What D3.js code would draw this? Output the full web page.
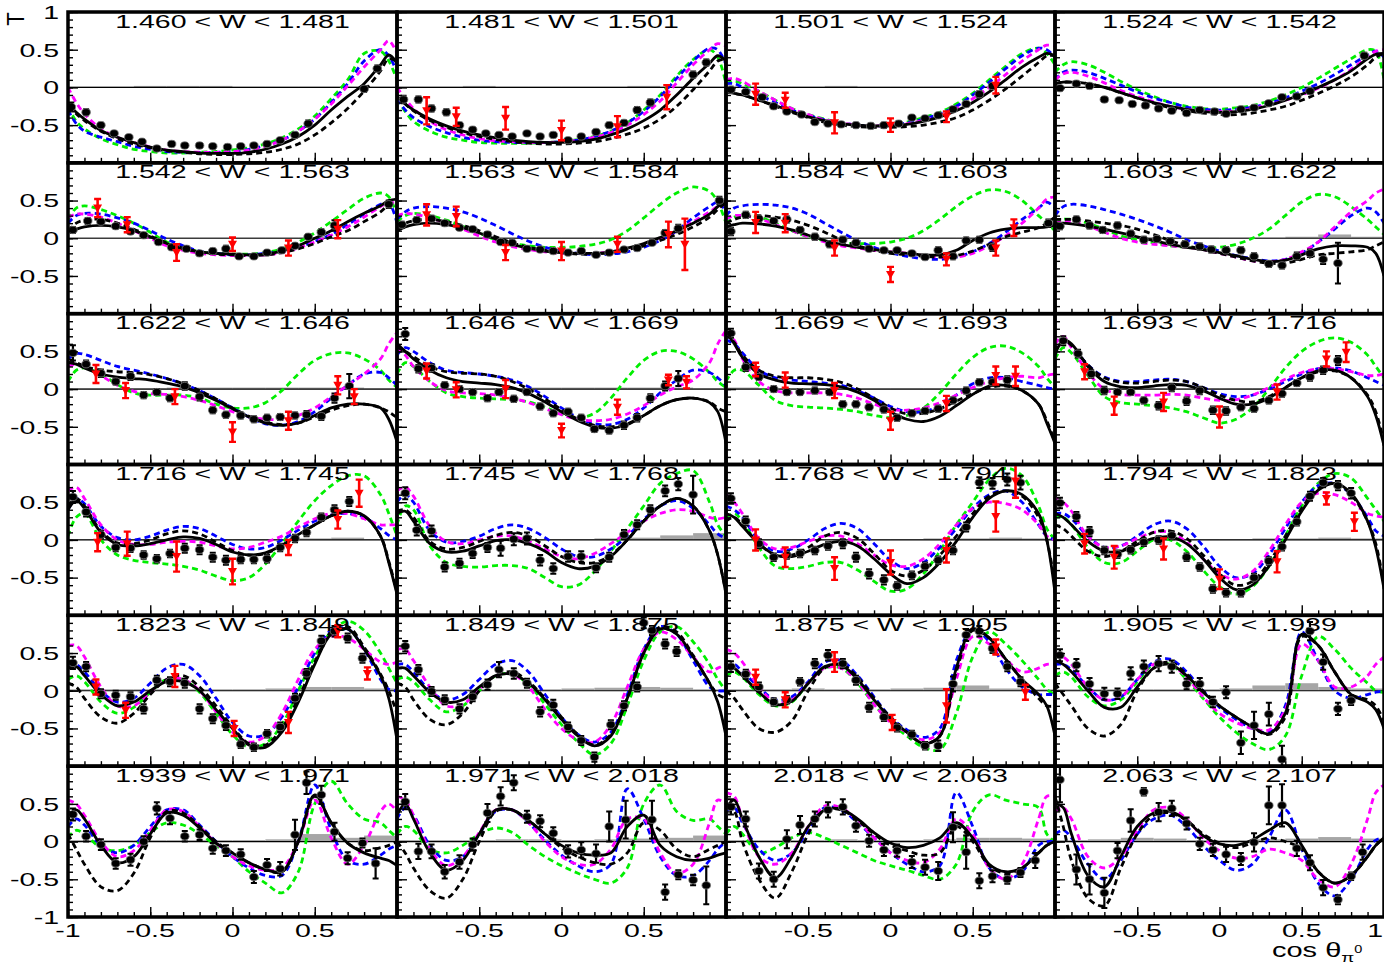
<!DOCTYPE html>
<html>
<head>
<meta charset="utf-8">
<script src="https://cdn.jsdelivr.net/npm/d3@7"></script>
<style>
  body { margin: 0; background: #fff; }
  svg text { font-family: "Liberation Sans", Arial, Helvetica, sans-serif; fill: #000; }
</style>
</head>
<body>
<svg id="chart" width="1384" height="963"></svg>
<script>
// W bins (one panel each, 4 columns x 6 rows)
const wBins = [
  "1.460 < W < 1.481", "1.481 < W < 1.501", "1.501 < W < 1.524", "1.524 < W < 1.542",
  "1.542 < W < 1.563", "1.563 < W < 1.584", "1.584 < W < 1.603", "1.603 < W < 1.622",
  "1.622 < W < 1.646", "1.646 < W < 1.669", "1.669 < W < 1.693", "1.693 < W < 1.716",
  "1.716 < W < 1.745", "1.745 < W < 1.768", "1.768 < W < 1.794", "1.794 < W < 1.823",
  "1.823 < W < 1.849", "1.849 < W < 1.875", "1.875 < W < 1.905", "1.905 < W < 1.939",
  "1.939 < W < 1.971", "1.971 < W < 2.018", "2.018 < W < 2.063", "2.063 < W < 2.107"
];

// cos(theta) nodes on which the model curves are tabulated
const cosGrid = [-1,-0.95,-0.9,-0.8,-0.7,-0.6,-0.5,-0.4,-0.3,-0.2,-0.1,0,0.1,0.2,0.3,0.4,0.5,0.6,0.7,0.8,0.9,0.95,1];

// Black solid: new fit
const fitSolid = [
  [-0.22,-0.33,-0.42,-0.57,-0.66,-0.73,-0.79,-0.83,-0.85,-0.87,-0.875,-0.875,-0.86,-0.82,-0.75,-0.65,-0.5,-0.3,-0.12,0.05,0.3,0.43,0.32],
  [-0.12,-0.22,-0.3,-0.42,-0.51,-0.58,-0.63,-0.67,-0.7,-0.72,-0.73,-0.73,-0.72,-0.69,-0.63,-0.55,-0.44,-0.3,-0.1,0.12,0.32,0.42,0.35],
  [-0.05,-0.08,-0.1,-0.17,-0.24,-0.32,-0.39,-0.44,-0.48,-0.5,-0.51,-0.51,-0.49,-0.45,-0.39,-0.31,-0.2,-0.06,0.1,0.27,0.4,0.45,0.42],
  [0.05,0.07,0.07,0.05,0.0,-0.07,-0.14,-0.2,-0.25,-0.29,-0.32,-0.33,-0.32,-0.29,-0.24,-0.17,-0.09,0.0,0.1,0.22,0.38,0.44,0.45],
  [0.08,0.12,0.15,0.17,0.15,0.1,0.02,-0.07,-0.14,-0.18,-0.2,-0.21,-0.22,-0.21,-0.17,-0.1,0.0,0.1,0.22,0.33,0.43,0.5,0.52],
  [0.1,0.15,0.18,0.2,0.18,0.14,0.07,-0.01,-0.08,-0.13,-0.17,-0.19,-0.2,-0.2,-0.18,-0.13,-0.07,0.01,0.1,0.2,0.32,0.42,0.5],
  [0.15,0.18,0.2,0.19,0.16,0.11,0.04,-0.03,-0.08,-0.12,-0.15,-0.18,-0.2,-0.22,-0.22,-0.16,-0.03,0.07,0.12,0.14,0.14,0.15,0.18],
  [0.2,0.2,0.19,0.16,0.12,0.07,0.02,-0.03,-0.08,-0.12,-0.15,-0.19,-0.23,-0.28,-0.31,-0.29,-0.22,-0.14,-0.1,-0.1,-0.12,-0.2,-0.5],
  [0.35,0.33,0.28,0.2,0.16,0.14,0.12,0.08,0.03,-0.05,-0.15,-0.26,-0.37,-0.45,-0.48,-0.45,-0.35,-0.25,-0.2,-0.2,-0.25,-0.4,-0.7],
  [0.6,0.5,0.4,0.25,0.15,0.1,0.08,0.06,0.02,-0.06,-0.17,-0.3,-0.42,-0.5,-0.52,-0.47,-0.35,-0.22,-0.14,-0.12,-0.18,-0.3,-0.72],
  [0.75,0.6,0.42,0.2,0.12,0.08,0.07,0.06,0.03,-0.04,-0.15,-0.3,-0.4,-0.43,-0.36,-0.22,-0.07,0.04,0.05,-0.02,-0.2,-0.45,-0.72],
  [0.45,0.65,0.6,0.3,0.1,0.03,0.02,0.04,0.06,0.05,-0.02,-0.12,-0.2,-0.2,-0.12,0.02,0.15,0.24,0.25,0.15,-0.1,-0.35,-0.75],
  [0.4,0.52,0.42,0.1,-0.06,-0.08,-0.05,0.0,0.04,0.02,-0.06,-0.16,-0.2,-0.17,-0.07,0.07,0.2,0.32,0.38,0.32,0.05,-0.3,-0.72],
  [0.35,0.38,0.25,-0.05,-0.16,-0.15,-0.08,-0.01,0.0,-0.05,-0.15,-0.3,-0.38,-0.35,-0.22,0.0,0.25,0.45,0.55,0.45,0.12,-0.2,-0.72],
  [0.35,0.3,0.18,-0.05,-0.2,-0.22,-0.15,-0.06,-0.02,-0.08,-0.25,-0.45,-0.58,-0.5,-0.3,-0.02,0.3,0.55,0.65,0.6,0.35,0.0,-0.7],
  [0.35,0.3,0.2,-0.02,-0.15,-0.15,-0.06,0.02,0.04,-0.05,-0.25,-0.5,-0.66,-0.6,-0.35,0.0,0.38,0.66,0.75,0.62,0.25,-0.1,-0.65],
  [0.3,0.32,0.2,-0.05,-0.2,-0.15,0.0,0.12,0.12,0.0,-0.25,-0.5,-0.72,-0.75,-0.55,-0.15,0.35,0.75,0.82,0.55,0.2,-0.1,-0.65],
  [0.3,0.3,0.2,-0.02,-0.15,-0.12,0.05,0.2,0.22,0.1,-0.12,-0.38,-0.6,-0.73,-0.6,-0.1,0.5,0.82,0.75,0.45,0.1,-0.15,-0.6],
  [0.35,0.3,0.2,-0.02,-0.18,-0.14,0.1,0.32,0.34,0.15,-0.12,-0.37,-0.55,-0.7,-0.6,0.3,0.82,0.7,0.42,0.15,-0.05,-0.2,-0.6],
  [0.4,0.35,0.25,0.0,-0.22,-0.22,0.05,0.3,0.35,0.2,-0.02,-0.2,-0.35,-0.48,-0.57,-0.3,0.75,0.6,0.25,-0.05,-0.15,-0.25,-0.5],
  [0.3,0.42,0.3,-0.05,-0.28,-0.2,0.1,0.38,0.35,0.18,-0.02,-0.15,-0.28,-0.37,-0.4,0.0,0.62,0.25,-0.02,-0.15,-0.22,-0.25,-0.32],
  [0.35,0.5,0.3,-0.15,-0.38,-0.25,0.1,0.42,0.42,0.28,0.1,-0.05,-0.15,-0.18,-0.15,0.2,0.35,-0.05,-0.2,-0.25,-0.22,-0.18,-0.15],
  [0.45,0.55,0.3,-0.2,-0.48,-0.2,0.2,0.42,0.43,0.3,0.12,-0.02,-0.08,-0.05,0.05,0.25,0.05,-0.3,-0.4,-0.35,-0.15,-0.05,0.0],
  [0.5,0.45,0.1,-0.45,-0.6,-0.2,0.2,0.38,0.4,0.28,0.08,-0.03,-0.05,0.02,0.15,0.25,-0.05,-0.4,-0.55,-0.45,-0.2,-0.05,0.05]
];

// Black dashed: previous fit
const fitDashed = [
  [-0.25,-0.35,-0.44,-0.58,-0.68,-0.75,-0.8,-0.84,-0.86,-0.88,-0.89,-0.89,-0.88,-0.86,-0.82,-0.75,-0.63,-0.47,-0.28,-0.05,0.22,0.38,0.35],
  [-0.12,-0.22,-0.31,-0.44,-0.53,-0.6,-0.65,-0.69,-0.72,-0.74,-0.75,-0.75,-0.74,-0.72,-0.68,-0.62,-0.54,-0.42,-0.25,-0.03,0.22,0.35,0.38],
  [-0.05,-0.08,-0.1,-0.17,-0.25,-0.33,-0.4,-0.46,-0.5,-0.52,-0.53,-0.53,-0.52,-0.5,-0.46,-0.4,-0.3,-0.17,-0.02,0.15,0.33,0.42,0.42],
  [0.05,0.07,0.07,0.05,0.0,-0.07,-0.14,-0.21,-0.27,-0.31,-0.34,-0.36,-0.36,-0.34,-0.3,-0.25,-0.17,-0.08,0.02,0.14,0.3,0.4,0.45],
  [0.1,0.2,0.24,0.25,0.2,0.12,0.03,-0.06,-0.13,-0.18,-0.21,-0.22,-0.23,-0.22,-0.19,-0.14,-0.07,0.02,0.1,0.22,0.35,0.45,0.5],
  [0.15,0.2,0.23,0.25,0.22,0.17,0.1,0.02,-0.06,-0.12,-0.16,-0.19,-0.21,-0.21,-0.19,-0.15,-0.1,-0.03,0.05,0.15,0.28,0.38,0.48],
  [0.2,0.25,0.28,0.3,0.28,0.24,0.17,0.08,-0.02,-0.1,-0.16,-0.2,-0.22,-0.24,-0.25,-0.23,-0.17,-0.08,0.02,0.08,0.14,0.2,0.28],
  [0.25,0.25,0.25,0.23,0.2,0.17,0.12,0.05,-0.03,-0.1,-0.15,-0.2,-0.25,-0.3,-0.33,-0.33,-0.28,-0.22,-0.2,-0.18,-0.15,-0.1,-0.05],
  [0.35,0.35,0.3,0.25,0.23,0.22,0.19,0.14,0.07,-0.02,-0.13,-0.25,-0.36,-0.44,-0.47,-0.45,-0.37,-0.28,-0.22,-0.2,-0.25,-0.3,-0.38],
  [0.55,0.5,0.43,0.3,0.23,0.21,0.2,0.17,0.1,0.0,-0.13,-0.27,-0.4,-0.48,-0.5,-0.46,-0.35,-0.22,-0.14,-0.12,-0.17,-0.25,-0.3],
  [0.75,0.62,0.45,0.25,0.17,0.15,0.15,0.13,0.09,0.0,-0.12,-0.25,-0.33,-0.32,-0.26,-0.16,-0.06,0.02,0.04,-0.02,-0.2,-0.42,-0.7],
  [0.5,0.65,0.58,0.32,0.15,0.09,0.08,0.1,0.12,0.1,0.02,-0.08,-0.15,-0.17,-0.1,0.02,0.15,0.23,0.24,0.15,-0.08,-0.3,-0.7],
  [0.45,0.55,0.45,0.12,-0.04,-0.05,0.0,0.08,0.12,0.08,-0.03,-0.14,-0.2,-0.18,-0.08,0.06,0.2,0.32,0.38,0.32,0.05,-0.28,-0.7],
  [0.38,0.4,0.3,-0.02,-0.12,-0.1,-0.02,0.06,0.1,0.05,-0.08,-0.22,-0.3,-0.3,-0.2,0.0,0.25,0.45,0.55,0.45,0.12,-0.2,-0.7],
  [0.25,0.3,0.2,-0.05,-0.2,-0.2,-0.1,0.05,0.1,0.02,-0.18,-0.4,-0.48,-0.4,-0.2,0.05,0.35,0.58,0.65,0.58,0.3,0.0,-0.6],
  [0.2,0.15,0.05,-0.15,-0.22,-0.15,-0.02,0.1,0.12,0.02,-0.2,-0.45,-0.6,-0.55,-0.3,0.05,0.42,0.68,0.75,0.6,0.25,-0.05,-0.6],
  [0.1,0.05,-0.1,-0.35,-0.43,-0.3,-0.05,0.15,0.2,0.05,-0.2,-0.48,-0.7,-0.72,-0.5,-0.1,0.38,0.78,0.85,0.58,0.22,0.0,-0.3],
  [0.1,0.05,-0.12,-0.38,-0.45,-0.3,0.0,0.2,0.25,0.12,-0.1,-0.35,-0.58,-0.72,-0.58,-0.1,0.5,0.85,0.78,0.47,0.1,-0.05,-0.1],
  [0.0,-0.1,-0.25,-0.5,-0.55,-0.4,0.0,0.3,0.35,0.18,-0.1,-0.35,-0.55,-0.7,-0.6,0.25,0.8,0.7,0.42,0.15,-0.1,-0.2,-0.2],
  [0.1,-0.05,-0.2,-0.5,-0.6,-0.45,0.0,0.3,0.38,0.22,0.0,-0.2,-0.35,-0.48,-0.58,-0.35,0.72,0.6,0.25,-0.05,-0.12,-0.2,-0.4],
  [0.1,-0.1,-0.3,-0.6,-0.65,-0.42,0.05,0.4,0.38,0.2,0.0,-0.15,-0.28,-0.37,-0.4,0.0,0.6,0.25,-0.02,-0.12,-0.08,-0.05,0.0],
  [0.0,-0.15,-0.35,-0.65,-0.75,-0.5,0.0,0.4,0.42,0.28,0.1,-0.08,-0.2,-0.28,-0.3,-0.15,0.25,0.15,-0.1,-0.2,-0.1,-0.05,0.0],
  [0.45,0.4,0.0,-0.5,-0.75,-0.4,0.1,0.42,0.42,0.28,0.1,-0.05,-0.12,-0.18,-0.15,0.2,0.0,-0.32,-0.42,-0.35,-0.15,-0.05,0.0],
  [0.6,0.2,-0.25,-0.75,-0.85,-0.35,0.1,0.35,0.38,0.28,0.1,-0.02,-0.08,-0.02,0.05,0.0,-0.1,-0.4,-0.55,-0.45,-0.2,-0.05,0.05]
];

// Blue dashed model
const modelBlue = [
  [-0.3,-0.48,-0.58,-0.66,-0.72,-0.78,-0.82,-0.85,-0.86,-0.86,-0.86,-0.85,-0.82,-0.77,-0.7,-0.58,-0.42,-0.2,0.05,0.35,0.5,0.42,0.2],
  [-0.15,-0.3,-0.4,-0.52,-0.6,-0.66,-0.7,-0.72,-0.73,-0.73,-0.73,-0.72,-0.7,-0.65,-0.58,-0.47,-0.32,-0.12,0.12,0.35,0.52,0.5,0.3],
  [0.05,0.05,0.0,-0.1,-0.2,-0.3,-0.37,-0.43,-0.47,-0.5,-0.51,-0.5,-0.47,-0.42,-0.35,-0.25,-0.1,0.07,0.25,0.42,0.52,0.5,0.4],
  [0.1,0.2,0.23,0.2,0.12,0.03,-0.06,-0.14,-0.2,-0.26,-0.29,-0.3,-0.29,-0.26,-0.21,-0.14,-0.05,0.05,0.17,0.3,0.43,0.48,0.4],
  [0.2,0.3,0.33,0.32,0.27,0.2,0.1,-0.01,-0.1,-0.17,-0.2,-0.22,-0.22,-0.2,-0.17,-0.12,-0.04,0.05,0.18,0.32,0.45,0.47,0.2],
  [0.25,0.35,0.4,0.42,0.4,0.35,0.27,0.17,0.06,-0.04,-0.12,-0.17,-0.2,-0.22,-0.21,-0.18,-0.12,-0.03,0.1,0.27,0.42,0.48,0.35],
  [0.3,0.4,0.43,0.45,0.44,0.4,0.32,0.2,0.08,-0.03,-0.12,-0.19,-0.24,-0.27,-0.28,-0.25,-0.18,-0.07,0.08,0.25,0.4,0.48,0.4],
  [0.3,0.42,0.45,0.43,0.38,0.32,0.25,0.17,0.08,-0.02,-0.1,-0.17,-0.23,-0.27,-0.3,-0.28,-0.2,-0.05,0.12,0.3,0.4,0.35,0.2],
  [0.4,0.47,0.46,0.38,0.3,0.25,0.2,0.14,0.07,-0.02,-0.13,-0.25,-0.37,-0.46,-0.48,-0.43,-0.3,-0.12,0.05,0.2,0.22,0.15,0.05],
  [0.45,0.55,0.5,0.35,0.25,0.22,0.2,0.17,0.12,0.03,-0.1,-0.25,-0.38,-0.46,-0.47,-0.4,-0.25,-0.05,0.12,0.25,0.22,0.15,0.05],
  [0.65,0.6,0.48,0.25,0.15,0.12,0.1,0.08,0.05,-0.02,-0.12,-0.23,-0.3,-0.3,-0.22,-0.08,0.07,0.15,0.15,0.1,0.05,0.02,0.0],
  [0.5,0.65,0.58,0.32,0.16,0.1,0.1,0.12,0.13,0.1,0.02,-0.06,-0.1,-0.08,0.0,0.1,0.2,0.27,0.28,0.24,0.15,0.1,0.05],
  [0.4,0.55,0.48,0.18,0.03,0.0,0.05,0.13,0.18,0.15,0.05,-0.06,-0.12,-0.1,0.0,0.13,0.25,0.33,0.35,0.3,0.15,0.06,0.0],
  [0.5,0.6,0.5,0.12,-0.03,-0.02,0.05,0.15,0.2,0.15,0.03,-0.12,-0.22,-0.22,-0.12,0.05,0.27,0.45,0.52,0.42,0.2,0.08,0.02],
  [0.45,0.4,0.3,0.0,-0.15,-0.12,0.0,0.15,0.22,0.15,-0.05,-0.27,-0.38,-0.3,-0.1,0.15,0.42,0.6,0.65,0.5,0.2,0.05,0.0],
  [0.35,0.35,0.28,0.05,-0.1,-0.08,0.05,0.2,0.25,0.15,-0.08,-0.35,-0.5,-0.45,-0.2,0.15,0.5,0.72,0.75,0.6,0.3,0.12,0.05],
  [0.35,0.35,0.25,0.0,-0.15,-0.1,0.1,0.3,0.35,0.2,-0.1,-0.42,-0.6,-0.58,-0.35,0.05,0.5,0.8,0.82,0.55,0.15,0.02,0.0],
  [0.35,0.35,0.25,0.0,-0.12,-0.05,0.15,0.35,0.4,0.25,-0.05,-0.35,-0.58,-0.68,-0.55,-0.05,0.55,0.85,0.75,0.4,0.05,0.0,0.0],
  [0.3,0.35,0.25,0.05,-0.12,-0.08,0.12,0.38,0.4,0.2,-0.08,-0.35,-0.52,-0.62,-0.5,0.4,0.82,0.65,0.3,0.05,-0.05,-0.05,-0.05],
  [0.35,0.35,0.28,0.05,-0.12,-0.08,0.15,0.38,0.42,0.25,0.0,-0.22,-0.38,-0.5,-0.55,-0.2,0.78,0.4,0.0,-0.1,-0.05,-0.02,0.0],
  [0.2,0.3,0.22,-0.05,-0.15,-0.05,0.2,0.42,0.42,0.22,0.0,-0.2,-0.35,-0.45,-0.45,0.0,0.75,0.15,-0.25,-0.3,-0.18,-0.1,-0.05],
  [0.3,0.45,0.35,-0.05,-0.25,-0.2,0.1,0.4,0.42,0.25,0.02,-0.18,-0.32,-0.4,-0.3,0.7,0.3,-0.2,-0.45,-0.45,-0.25,-0.1,0.0],
  [0.4,0.45,0.25,-0.1,-0.25,-0.15,0.15,0.45,0.42,0.25,0.05,-0.15,-0.3,-0.4,-0.32,0.65,0.2,-0.35,-0.5,-0.4,-0.05,0.0,0.0],
  [0.1,0.15,0.05,-0.3,-0.5,-0.25,0.1,0.3,0.35,0.2,-0.05,-0.25,-0.38,-0.3,0.05,0.42,-0.1,-0.55,-0.72,-0.5,-0.1,0.02,0.05]
];

// Green dashed model (not shown in the last bin)
const modelGreen = [
  [-0.25,-0.45,-0.55,-0.68,-0.76,-0.82,-0.85,-0.87,-0.87,-0.86,-0.85,-0.83,-0.8,-0.75,-0.67,-0.55,-0.38,-0.15,0.1,0.45,0.48,0.35,0.1],
  [-0.15,-0.32,-0.45,-0.58,-0.66,-0.7,-0.73,-0.74,-0.74,-0.74,-0.73,-0.72,-0.69,-0.65,-0.58,-0.47,-0.3,-0.1,0.15,0.37,0.5,0.4,0.05],
  [0.05,0.08,0.05,-0.05,-0.17,-0.28,-0.36,-0.42,-0.47,-0.5,-0.51,-0.5,-0.46,-0.4,-0.33,-0.22,-0.08,0.1,0.28,0.45,0.52,0.45,0.3],
  [0.2,0.3,0.34,0.3,0.2,0.08,-0.03,-0.12,-0.2,-0.25,-0.28,-0.29,-0.27,-0.24,-0.18,-0.1,0.0,0.12,0.25,0.38,0.5,0.48,0.1],
  [0.25,0.4,0.43,0.38,0.3,0.2,0.08,-0.05,-0.13,-0.18,-0.2,-0.21,-0.21,-0.19,-0.14,-0.05,0.07,0.22,0.38,0.53,0.6,0.55,0.3],
  [0.22,0.3,0.33,0.3,0.24,0.16,0.07,-0.02,-0.07,-0.1,-0.12,-0.12,-0.11,-0.08,-0.02,0.1,0.27,0.45,0.6,0.68,0.62,0.48,0.2],
  [0.2,0.28,0.3,0.28,0.2,0.1,0.02,-0.03,-0.06,-0.07,-0.07,-0.05,0.0,0.1,0.25,0.42,0.56,0.64,0.62,0.5,0.3,0.2,0.1],
  [0.2,0.25,0.25,0.2,0.12,0.03,-0.02,-0.06,-0.1,-0.12,-0.13,-0.12,-0.08,0.0,0.12,0.3,0.48,0.58,0.55,0.42,0.25,0.15,0.05],
  [0.1,0.25,0.28,0.2,0.06,-0.05,-0.08,-0.08,-0.08,-0.12,-0.2,-0.25,-0.25,-0.18,-0.02,0.2,0.38,0.47,0.48,0.4,0.25,0.12,0.02],
  [0.2,0.35,0.3,0.1,-0.05,-0.1,-0.12,-0.13,-0.14,-0.17,-0.24,-0.33,-0.38,-0.32,-0.12,0.15,0.38,0.5,0.5,0.4,0.22,0.1,0.02],
  [0.1,0.25,0.25,0.05,-0.15,-0.22,-0.24,-0.25,-0.27,-0.3,-0.35,-0.38,-0.35,-0.25,-0.05,0.2,0.42,0.55,0.57,0.48,0.3,0.15,0.02],
  [0.4,0.55,0.48,0.18,-0.1,-0.18,-0.2,-0.22,-0.25,-0.3,-0.38,-0.45,-0.4,-0.25,0.0,0.28,0.5,0.63,0.68,0.62,0.45,0.3,0.15],
  [0.05,0.3,0.35,0.0,-0.2,-0.27,-0.3,-0.32,-0.35,-0.4,-0.48,-0.54,-0.5,-0.32,-0.05,0.25,0.52,0.72,0.85,0.85,0.6,0.35,0.05],
  [0.2,0.45,0.4,-0.08,-0.3,-0.35,-0.36,-0.34,-0.34,-0.38,-0.5,-0.62,-0.6,-0.42,-0.15,0.15,0.45,0.75,0.88,0.92,0.5,0.2,0.05],
  [0.3,0.35,0.25,-0.1,-0.35,-0.38,-0.35,-0.3,-0.3,-0.4,-0.55,-0.68,-0.65,-0.45,-0.15,0.2,0.5,0.8,0.95,0.85,0.45,0.15,0.0],
  [0.3,0.3,0.2,-0.1,-0.3,-0.3,-0.15,0.0,0.0,-0.15,-0.4,-0.62,-0.72,-0.62,-0.35,0.05,0.45,0.75,0.88,0.82,0.55,0.4,0.25],
  [0.15,0.2,0.12,-0.15,-0.3,-0.22,-0.02,0.15,0.15,-0.02,-0.3,-0.58,-0.75,-0.7,-0.45,0.0,0.45,0.78,0.92,0.8,0.5,0.3,0.1],
  [0.15,0.18,0.12,-0.12,-0.28,-0.2,0.0,0.2,0.22,0.08,-0.18,-0.45,-0.68,-0.85,-0.7,-0.2,0.4,0.78,0.85,0.65,0.35,0.15,0.0],
  [0.2,0.25,0.18,-0.05,-0.2,-0.15,0.1,0.3,0.3,0.1,-0.18,-0.42,-0.6,-0.75,-0.78,-0.3,0.45,0.78,0.62,0.4,0.15,0.02,-0.05],
  [0.2,0.25,0.18,-0.08,-0.2,-0.12,0.12,0.35,0.35,0.15,-0.1,-0.35,-0.55,-0.7,-0.78,-0.6,0.2,0.72,0.55,0.3,0.1,0.0,-0.02],
  [0.05,0.15,0.1,-0.08,-0.12,-0.05,0.12,0.25,0.22,0.1,-0.05,-0.2,-0.4,-0.55,-0.68,-0.4,0.5,0.8,0.5,0.3,0.25,0.15,0.05],
  [0.1,0.2,0.15,-0.1,-0.15,-0.05,0.1,0.18,0.12,-0.05,-0.2,-0.32,-0.42,-0.5,-0.55,-0.35,0.5,0.75,0.4,0.28,0.3,0.2,0.1],
  [0.1,0.2,0.1,-0.15,-0.08,0.05,0.12,0.05,-0.05,-0.15,-0.25,-0.32,-0.38,-0.45,-0.5,-0.3,0.4,0.62,0.55,0.5,0.45,0.1,0.0],
  null
];

// Magenta dashed model
const modelMagenta = [
  [0.0,-0.2,-0.35,-0.55,-0.66,-0.73,-0.79,-0.83,-0.85,-0.86,-0.86,-0.85,-0.83,-0.78,-0.7,-0.58,-0.42,-0.22,0.02,0.27,0.5,0.62,0.45],
  [0.0,-0.15,-0.28,-0.45,-0.56,-0.63,-0.68,-0.71,-0.72,-0.73,-0.73,-0.72,-0.7,-0.66,-0.6,-0.5,-0.36,-0.18,0.06,0.3,0.5,0.58,0.55],
  [0.1,0.12,0.08,-0.05,-0.17,-0.28,-0.36,-0.43,-0.47,-0.5,-0.51,-0.5,-0.48,-0.44,-0.38,-0.28,-0.15,0.0,0.17,0.35,0.5,0.56,0.55],
  [0.1,0.18,0.2,0.15,0.06,-0.04,-0.12,-0.19,-0.25,-0.29,-0.31,-0.32,-0.31,-0.28,-0.23,-0.17,-0.1,-0.01,0.1,0.24,0.4,0.48,0.5],
  [0.28,0.32,0.32,0.28,0.2,0.1,0.0,-0.1,-0.16,-0.2,-0.22,-0.23,-0.23,-0.22,-0.19,-0.13,-0.05,0.04,0.15,0.28,0.42,0.48,0.45],
  [0.3,0.33,0.32,0.27,0.2,0.12,0.03,-0.05,-0.11,-0.15,-0.18,-0.2,-0.2,-0.2,-0.18,-0.14,-0.08,0.0,0.1,0.22,0.35,0.42,0.45],
  [0.25,0.3,0.3,0.26,0.18,0.1,0.02,-0.05,-0.1,-0.13,-0.16,-0.18,-0.2,-0.23,-0.25,-0.25,-0.2,-0.1,0.03,0.2,0.4,0.52,0.55],
  [0.2,0.22,0.22,0.16,0.08,0.0,-0.05,-0.08,-0.1,-0.12,-0.15,-0.2,-0.25,-0.3,-0.31,-0.28,-0.18,-0.05,0.15,0.35,0.5,0.6,0.65],
  [0.3,0.33,0.3,0.18,0.05,-0.03,-0.06,-0.07,-0.1,-0.15,-0.22,-0.3,-0.37,-0.4,-0.4,-0.35,-0.25,-0.1,0.05,0.2,0.4,0.6,0.75],
  [0.55,0.45,0.3,0.1,-0.02,-0.05,-0.06,-0.08,-0.12,-0.18,-0.26,-0.34,-0.4,-0.42,-0.4,-0.33,-0.22,-0.08,0.03,0.12,0.35,0.6,0.78],
  [0.75,0.65,0.4,0.1,-0.02,-0.05,-0.05,-0.05,-0.07,-0.12,-0.2,-0.27,-0.28,-0.25,-0.18,-0.08,0.02,0.1,0.15,0.17,0.15,0.18,0.2],
  [0.6,0.7,0.55,0.22,0.0,-0.07,-0.08,-0.08,-0.07,-0.08,-0.12,-0.15,-0.14,-0.08,0.02,0.13,0.22,0.27,0.27,0.23,0.18,0.18,0.2],
  [0.65,0.7,0.55,0.2,0.0,-0.06,-0.06,-0.03,-0.02,-0.03,-0.08,-0.12,-0.1,-0.03,0.05,0.17,0.28,0.35,0.35,0.28,0.2,0.2,0.2],
  [0.65,0.7,0.58,0.18,-0.02,-0.05,0.0,0.05,0.05,-0.02,-0.12,-0.22,-0.25,-0.18,-0.05,0.1,0.25,0.35,0.4,0.38,0.3,0.28,0.3],
  [0.6,0.5,0.35,0.02,-0.12,-0.1,-0.02,0.05,0.05,-0.05,-0.2,-0.33,-0.35,-0.25,-0.05,0.2,0.42,0.5,0.48,0.4,0.2,0.05,0.0],
  [0.55,0.5,0.38,0.05,-0.1,-0.08,0.02,0.1,0.1,-0.03,-0.25,-0.45,-0.52,-0.42,-0.15,0.2,0.5,0.62,0.6,0.5,0.35,0.32,0.3],
  [0.6,0.6,0.45,0.05,-0.2,-0.2,-0.02,0.15,0.15,0.0,-0.28,-0.55,-0.68,-0.6,-0.3,0.15,0.55,0.72,0.7,0.55,0.38,0.35,0.38],
  [0.55,0.55,0.4,0.05,-0.2,-0.18,0.02,0.2,0.22,0.05,-0.25,-0.5,-0.65,-0.68,-0.45,0.05,0.55,0.78,0.68,0.45,0.25,0.3,0.35],
  [0.55,0.5,0.38,0.05,-0.15,-0.12,0.1,0.3,0.3,0.12,-0.18,-0.42,-0.55,-0.65,-0.55,0.15,0.72,0.62,0.42,0.25,0.3,0.35,0.35],
  [0.5,0.45,0.35,0.05,-0.12,-0.08,0.15,0.35,0.35,0.18,-0.08,-0.3,-0.42,-0.5,-0.52,-0.25,0.62,0.4,0.05,0.05,0.2,0.35,0.45],
  [0.55,0.5,0.35,0.0,-0.2,-0.12,0.15,0.42,0.4,0.2,-0.02,-0.2,-0.32,-0.38,-0.35,0.0,0.55,0.05,-0.3,-0.05,0.4,0.5,0.4],
  [0.6,0.55,0.35,-0.1,-0.32,-0.2,0.12,0.42,0.42,0.25,0.0,-0.2,-0.3,-0.3,-0.1,0.3,0.3,-0.15,-0.42,-0.3,0.25,0.55,0.5],
  [0.65,0.6,0.3,-0.2,-0.3,-0.15,0.2,0.47,0.45,0.28,0.05,-0.15,-0.25,-0.28,-0.1,0.3,0.1,-0.35,-0.5,-0.3,0.3,0.6,0.6],
  [0.4,0.45,0.3,-0.2,-0.35,-0.2,0.15,0.42,0.45,0.3,0.05,-0.12,-0.22,-0.2,-0.1,-0.15,-0.25,-0.5,-0.6,-0.3,0.3,0.65,0.75]
];

// Black points: [cos, T, error]
const dataBlack = [
  [[-0.98,-0.26,0.06],[-0.89,-0.33,0.04],[-0.8,-0.5,0.03],[-0.72,-0.61,0.03],[-0.63,-0.66,0.03],[-0.55,-0.72,0.03],[-0.46,-0.81,0.03],[-0.37,-0.75,0.03],[-0.29,-0.77,0.03],[-0.2,-0.77,0.03],[-0.12,-0.78,0.03],[-0.03,-0.79,0.03],[0.05,-0.78,0.03],[0.13,-0.77,0.03],[0.21,-0.75,0.03],[0.29,-0.7,0.03],[0.38,-0.63,0.03],[0.46,-0.48,0.04],[0.8,-0.02,0.04],[0.88,0.25,0.04]],
  [[-0.96,-0.16,0.05],[-0.87,-0.16,0.04],[-0.79,-0.28,0.04],[-0.7,-0.33,0.04],[-0.62,-0.5,0.03],[-0.54,-0.56,0.03],[-0.46,-0.61,0.03],[-0.38,-0.63,0.03],[-0.3,-0.65,0.03],[-0.21,-0.61,0.03],[-0.13,-0.65,0.03],[-0.05,-0.63,0.03],[0.04,-0.7,0.03],[0.12,-0.65,0.03],[0.21,-0.59,0.03],[0.29,-0.5,0.03],[0.38,-0.47,0.03],[0.46,-0.3,0.04],[0.54,-0.2,0.04],[0.8,0.17,0.04],[0.88,0.33,0.04]],
  [[-0.97,-0.03,0.04],[-0.88,-0.06,0.03],[-0.78,-0.13,0.03],[-0.71,-0.25,0.03],[-0.63,-0.32,0.03],[-0.54,-0.36,0.03],[-0.46,-0.46,0.03],[-0.38,-0.48,0.03],[-0.3,-0.49,0.03],[-0.21,-0.5,0.03],[-0.12,-0.51,0.03],[-0.04,-0.5,0.03],[0.05,-0.48,0.03],[0.13,-0.4,0.03],[0.21,-0.41,0.03],[0.29,-0.37,0.03],[0.38,-0.29,0.03],[0.46,-0.22,0.03],[0.54,-0.09,0.04],[0.62,0.02,0.04]],
  [[-0.97,-0.01,0.03],[-0.87,0.05,0.03],[-0.79,0.02,0.03],[-0.7,-0.16,0.03],[-0.61,-0.17,0.03],[-0.53,-0.22,0.03],[-0.45,-0.24,0.03],[-0.37,-0.28,0.03],[-0.29,-0.31,0.03],[-0.2,-0.34,0.03],[-0.12,-0.3,0.03],[-0.03,-0.32,0.03],[0.04,-0.35,0.03],[0.13,-0.29,0.03],[0.21,-0.27,0.03],[0.3,-0.21,0.03],[0.38,-0.13,0.03],[0.47,-0.12,0.03],[0.55,-0.05,0.03],[0.88,0.42,0.04]],
  [[-0.97,0.11,0.04],[-0.88,0.23,0.04],[-0.8,0.22,0.03],[-0.71,0.16,0.03],[-0.62,0.09,0.03],[-0.54,0.04,0.03],[-0.45,-0.05,0.03],[-0.37,-0.12,0.03],[-0.28,-0.14,0.03],[-0.2,-0.2,0.03],[-0.12,-0.17,0.03],[-0.04,-0.14,0.04],[0.04,-0.24,0.03],[0.13,-0.24,0.03],[0.21,-0.19,0.03],[0.3,-0.16,0.03],[0.38,-0.1,0.03],[0.46,0.02,0.03],[0.54,0.08,0.04],[0.62,0.17,0.07],[0.95,0.45,0.05]],
  [[-0.97,0.18,0.04],[-0.88,0.24,0.04],[-0.79,0.26,0.04],[-0.71,0.2,0.03],[-0.62,0.14,0.03],[-0.54,0.12,0.03],[-0.45,0.05,0.03],[-0.37,-0.05,0.03],[-0.3,-0.06,0.03],[-0.21,-0.14,0.03],[-0.13,-0.15,0.03],[-0.05,-0.17,0.03],[0.04,-0.19,0.03],[0.12,-0.17,0.03],[0.21,-0.22,0.03],[0.29,-0.19,0.03],[0.38,-0.15,0.03],[0.46,-0.13,0.03],[0.55,-0.06,0.03],[0.63,0.07,0.04],[0.71,0.13,0.05],[0.96,0.5,0.05]],
  [[-0.97,0.09,0.05],[-0.88,0.31,0.04],[-0.8,0.26,0.04],[-0.71,0.23,0.04],[-0.63,0.25,0.04],[-0.55,0.11,0.04],[-0.46,0.02,0.04],[-0.37,-0.08,0.04],[-0.29,-0.02,0.04],[-0.21,-0.06,0.04],[-0.13,-0.14,0.03],[-0.04,-0.16,0.03],[0.04,-0.16,0.03],[0.13,-0.2,0.03],[0.21,-0.25,0.03],[0.29,-0.16,0.04],[0.38,-0.24,0.04],[0.46,-0.03,0.04],[0.54,-0.02,0.04],[0.62,-0.12,0.05],[0.96,0.2,0.05]],
  [[-0.97,0.16,0.04],[-0.87,0.25,0.04],[-0.79,0.17,0.04],[-0.71,0.11,0.04],[-0.62,0.17,0.04],[-0.54,0.06,0.04],[-0.46,-0.02,0.04],[-0.38,-0.01,0.04],[-0.3,-0.04,0.04],[-0.21,-0.08,0.04],[-0.12,-0.11,0.04],[-0.05,-0.15,0.04],[0.04,-0.16,0.04],[0.13,-0.16,0.04],[0.21,-0.24,0.04],[0.3,-0.34,0.04],[0.38,-0.36,0.04],[0.47,-0.24,0.05],[0.55,-0.2,0.05],[0.63,-0.28,0.06],[0.72,-0.33,0.27]],
  [[-0.97,0.48,0.1],[-0.89,0.33,0.05],[-0.8,0.21,0.05],[-0.71,0.1,0.04],[-0.62,0.17,0.05],[-0.54,-0.08,0.04],[-0.46,-0.04,0.04],[-0.38,-0.12,0.04],[-0.29,0.04,0.05],[-0.2,-0.1,0.05],[-0.12,-0.28,0.04],[-0.04,-0.34,0.04],[0.05,-0.35,0.04],[0.13,-0.4,0.04],[0.21,-0.38,0.04],[0.29,-0.37,0.04],[0.38,-0.35,0.04],[0.45,-0.34,0.05],[0.54,-0.36,0.05],[0.62,-0.12,0.06],[0.71,0.04,0.16]],
  [[-0.95,0.73,0.08],[-0.87,0.27,0.05],[-0.79,0.28,0.05],[-0.71,0.05,0.04],[-0.62,0.0,0.04],[-0.54,-0.04,0.04],[-0.45,-0.12,0.04],[-0.38,-0.04,0.04],[-0.29,-0.13,0.04],[-0.21,-0.04,0.04],[-0.13,-0.23,0.04],[-0.05,-0.32,0.04],[0.04,-0.3,0.04],[0.12,-0.38,0.04],[0.2,-0.53,0.04],[0.29,-0.55,0.04],[0.38,-0.48,0.05],[0.46,-0.38,0.05],[0.54,-0.12,0.05],[0.63,0.04,0.06],[0.71,0.14,0.1]],
  [[-0.97,0.74,0.06],[-0.88,0.29,0.05],[-0.8,0.16,0.04],[-0.71,0.0,0.04],[-0.63,-0.04,0.04],[-0.55,-0.04,0.04],[-0.46,-0.02,0.04],[-0.37,-0.04,0.04],[-0.29,-0.2,0.04],[-0.21,-0.2,0.04],[-0.13,-0.24,0.04],[-0.04,-0.27,0.04],[0.04,-0.38,0.04],[0.13,-0.32,0.04],[0.21,-0.29,0.04],[0.29,-0.26,0.04],[0.38,-0.15,0.04],[0.46,-0.02,0.04],[0.54,0.09,0.04],[0.62,0.09,0.05],[0.71,0.12,0.05]],
  [[-0.95,0.64,0.06],[-0.86,0.47,0.05],[-0.78,0.2,0.05],[-0.7,-0.02,0.05],[-0.62,-0.04,0.04],[-0.54,-0.04,0.04],[-0.46,-0.15,0.04],[-0.37,-0.22,0.05],[-0.29,0.02,0.05],[-0.2,-0.16,0.05],[-0.12,-0.02,0.05],[-0.04,-0.28,0.05],[0.04,-0.29,0.05],[0.13,-0.24,0.04],[0.21,-0.26,0.04],[0.3,-0.15,0.04],[0.38,-0.06,0.04],[0.47,0.08,0.04],[0.55,0.16,0.05],[0.63,0.25,0.05],[0.72,0.38,0.06]],
  [[-0.97,0.57,0.08],[-0.89,0.37,0.06],[-0.8,0.07,0.05],[-0.71,-0.1,0.05],[-0.62,-0.11,0.05],[-0.54,-0.2,0.05],[-0.46,-0.25,0.05],[-0.38,-0.18,0.05],[-0.29,-0.11,0.06],[-0.2,-0.13,0.06],[-0.12,-0.23,0.06],[-0.04,-0.27,0.06],[0.05,-0.26,0.05],[0.13,-0.26,0.05],[0.21,-0.25,0.05],[0.29,-0.1,0.05],[0.38,0.02,0.05],[0.45,0.1,0.05],[0.54,0.3,0.05],[0.62,0.4,0.06],[0.71,0.51,0.06]],
  [[-0.95,0.62,0.08],[-0.88,0.13,0.07],[-0.79,0.12,0.07],[-0.71,-0.36,0.06],[-0.62,-0.31,0.06],[-0.54,-0.18,0.06],[-0.45,-0.1,0.06],[-0.37,-0.11,0.1],[-0.29,0.01,0.08],[-0.21,0.02,0.08],[-0.13,-0.27,0.07],[-0.05,-0.38,0.07],[0.04,-0.22,0.07],[0.12,-0.22,0.07],[0.21,-0.37,0.06],[0.29,-0.23,0.06],[0.38,0.07,0.06],[0.46,0.2,0.06],[0.54,0.4,0.06],[0.63,0.65,0.07],[0.71,0.74,0.08],[0.8,0.6,0.25]],
  [[-0.97,0.55,0.07],[-0.88,0.25,0.06],[-0.8,-0.05,0.06],[-0.71,-0.23,0.05],[-0.63,-0.2,0.05],[-0.55,-0.18,0.05],[-0.46,-0.14,0.05],[-0.38,-0.08,0.05],[-0.29,-0.05,0.06],[-0.21,-0.23,0.06],[-0.13,-0.45,0.06],[-0.04,-0.53,0.06],[0.04,-0.61,0.05],[0.13,-0.47,0.05],[0.21,-0.35,0.05],[0.29,-0.27,0.05],[0.38,-0.14,0.05],[0.46,0.17,0.06],[0.54,0.76,0.07],[0.62,0.75,0.07],[0.71,0.8,0.08],[0.79,0.76,0.09]],
  [[-0.97,0.49,0.07],[-0.87,0.31,0.06],[-0.79,0.11,0.06],[-0.7,-0.14,0.05],[-0.62,-0.19,0.05],[-0.54,-0.13,0.05],[-0.46,-0.03,0.05],[-0.37,0.0,0.05],[-0.29,0.06,0.05],[-0.2,-0.23,0.05],[-0.12,-0.36,0.05],[-0.04,-0.65,0.05],[0.04,-0.7,0.05],[0.13,-0.7,0.05],[0.21,-0.5,0.05],[0.3,-0.28,0.05],[0.38,-0.09,0.05],[0.47,0.24,0.05],[0.55,0.58,0.06],[0.63,0.76,0.06],[0.72,0.72,0.06],[0.8,0.62,0.07]],
  [[-0.97,0.37,0.08],[-0.89,0.32,0.06],[-0.8,-0.04,0.06],[-0.71,-0.06,0.06],[-0.62,-0.08,0.06],[-0.54,-0.24,0.06],[-0.46,0.14,0.06],[-0.38,0.12,0.06],[-0.29,0.1,0.06],[-0.2,-0.24,0.06],[-0.12,-0.37,0.06],[-0.04,-0.46,0.06],[0.05,-0.71,0.05],[0.13,-0.75,0.05],[0.21,-0.57,0.05],[0.29,-0.48,0.06],[0.38,-0.1,0.06],[0.45,0.23,0.06],[0.54,0.66,0.07],[0.62,0.79,0.07],[0.7,0.7,0.06],[0.79,0.43,0.06]],
  [[-0.95,0.59,0.07],[-0.87,0.28,0.06],[-0.79,-0.01,0.06],[-0.71,-0.12,0.06],[-0.62,-0.24,0.06],[-0.54,-0.08,0.06],[-0.45,0.08,0.07],[-0.38,0.28,0.1],[-0.29,0.23,0.07],[-0.21,0.1,0.06],[-0.13,-0.28,0.06],[-0.05,-0.19,0.07],[0.04,-0.48,0.06],[0.12,-0.66,0.06],[0.2,-0.88,0.06],[0.3,-0.45,0.06],[0.38,-0.2,0.06],[0.46,0.05,0.06],[0.5,0.9,0.07],[0.55,0.8,0.06],[0.63,0.62,0.06],[0.7,0.52,0.06]],
  [[-0.97,0.32,0.07],[-0.88,0.22,0.06],[-0.8,0.05,0.06],[-0.71,-0.15,0.05],[-0.63,-0.12,0.05],[-0.55,0.12,0.05],[-0.46,0.36,0.06],[-0.38,0.47,0.07],[-0.29,0.36,0.06],[-0.21,0.14,0.06],[-0.13,-0.22,0.06],[-0.04,-0.35,0.05],[0.04,-0.49,0.05],[0.13,-0.58,0.05],[0.21,-0.73,0.05],[0.29,-0.73,0.07],[0.38,0.09,0.1],[0.46,0.74,0.08],[0.54,0.79,0.07],[0.62,0.56,0.06],[0.71,0.32,0.06],[0.79,0.12,0.06]],
  [[-0.97,0.47,0.08],[-0.87,0.34,0.08],[-0.79,0.09,0.08],[-0.7,-0.04,0.08],[-0.62,-0.04,0.07],[-0.54,0.23,0.08],[-0.46,0.32,0.08],[-0.37,0.36,0.1],[-0.29,0.32,0.08],[-0.2,0.09,0.07],[-0.12,0.09,0.08],[-0.04,-0.15,0.07],[0.04,-0.02,0.08],[0.13,-0.69,0.15],[0.21,-0.46,0.18],[0.3,-0.31,0.15],[0.38,-0.91,0.18],[0.55,0.79,0.12],[0.63,0.38,0.1],[0.72,-0.24,0.08],[0.8,-0.13,0.06]],
  [[-0.97,0.36,0.08],[-0.89,0.07,0.07],[-0.8,-0.04,0.07],[-0.71,-0.29,0.07],[-0.62,-0.24,0.08],[-0.54,0.0,0.07],[-0.46,0.44,0.08],[-0.38,0.31,0.08],[-0.29,0.07,0.07],[-0.2,0.09,0.07],[-0.12,-0.09,0.07],[-0.04,-0.12,0.07],[0.05,-0.17,0.07],[0.13,-0.47,0.08],[0.21,-0.31,0.08],[0.29,-0.36,0.09],[0.38,0.09,0.2],[0.45,0.78,0.15],[0.54,0.62,0.12],[0.62,0.13,0.12],[0.7,-0.22,0.08],[0.79,-0.02,0.06],[0.87,-0.29,0.2]],
  [[-0.95,0.53,0.1],[-0.87,-0.13,0.1],[-0.79,-0.13,0.09],[-0.71,-0.4,0.09],[-0.62,-0.27,0.09],[-0.54,-0.04,0.08],[-0.45,0.38,0.12],[-0.37,0.6,0.12],[-0.29,0.78,0.1],[-0.21,0.33,0.08],[-0.13,0.27,0.08],[-0.05,0.11,0.08],[0.04,-0.13,0.08],[0.12,-0.11,0.1],[0.21,-0.16,0.12],[0.29,0.2,0.2],[0.39,0.29,0.25],[0.55,0.29,0.25],[0.63,-0.67,0.1],[0.71,-0.44,0.06],[0.8,-0.51,0.07],[0.88,-0.58,0.25]],
  [[-0.97,0.46,0.1],[-0.88,0.3,0.1],[-0.8,-0.39,0.1],[-0.71,-0.5,0.1],[-0.63,0.03,0.12],[-0.55,0.22,0.12],[-0.46,0.3,0.1],[-0.38,0.42,0.1],[-0.29,0.46,0.1],[-0.21,0.21,0.08],[-0.13,0.01,0.08],[-0.04,-0.11,0.08],[0.04,-0.12,0.08],[0.13,-0.27,0.08],[0.21,-0.34,0.1],[0.29,-0.39,0.12],[0.38,0.19,0.2],[0.46,-0.14,0.22],[0.54,-0.52,0.1],[0.62,-0.46,0.08],[0.71,-0.5,0.06],[0.79,-0.41,0.06],[0.88,-0.25,0.1]],
  [[-0.97,0.82,0.3],[-0.87,-0.37,0.2],[-0.79,-0.5,0.2],[-0.7,-0.68,0.2],[-0.62,-0.12,0.1],[-0.54,0.28,0.15],[-0.46,0.66,0.05],[-0.37,0.39,0.12],[-0.29,0.44,0.1],[-0.2,0.24,0.08],[-0.12,-0.03,0.08],[-0.04,-0.11,0.08],[0.04,-0.17,0.1],[0.13,-0.23,0.08],[0.21,-0.01,0.12],[0.3,0.48,0.25],[0.38,0.48,0.28],[0.47,-0.09,0.1],[0.55,-0.28,0.1],[0.63,-0.61,0.1],[0.72,-0.77,0.06],[0.8,-0.46,0.05],[0.87,-0.14,0.1]]
];

// Red points: [cos, T, error]
const dataRed = [
  [],
  [[-0.82,-0.31,0.18],[-0.64,-0.39,0.12],[-0.34,-0.41,0.15],[0,-0.57,0.13],[0.34,-0.52,0.14],[0.64,-0.13,0.16]],
  [[-0.82,-0.09,0.14],[-0.64,-0.17,0.1],[-0.34,-0.47,0.14],[0,-0.5,0.09],[0.34,-0.39,0.07],[0.64,0.03,0.11]],
  [],
  [[-0.82,0.4,0.12],[-0.64,0.18,0.1],[-0.34,-0.19,0.11],[0,-0.08,0.09],[0.34,-0.13,0.1],[0.64,0.12,0.12]],
  [[-0.82,0.31,0.14],[-0.64,0.29,0.13],[-0.34,-0.19,0.1],[0,-0.17,0.12],[0.34,-0.08,0.1],[0.65,0.05,0.17],[0.75,-0.08,0.34]],
  [[-0.82,0.21,0.14],[-0.64,0.2,0.12],[-0.34,-0.13,0.1],[0,-0.48,0.1],[0.34,-0.28,0.08],[0.64,-0.13,0.1],[0.75,0.14,0.11]],
  [],
  [[-0.83,0.2,0.12],[-0.65,-0.02,0.1],[-0.35,-0.1,0.1],[0,-0.57,0.13],[0.34,-0.42,0.12],[0.64,0.05,0.12],[0.74,-0.1,0.1]],
  [[-0.82,0.24,0.1],[-0.64,-0.01,0.1],[-0.34,0.0,0.12],[0,-0.55,0.09],[0.34,-0.24,0.1],[0.65,0.12,0.07],[0.76,0.09,0.08]],
  [[-0.82,0.26,0.09],[-0.64,0.12,0.1],[-0.34,-0.02,0.1],[0,-0.42,0.12],[0.34,-0.19,0.1],[0.64,0.18,0.12],[0.76,0.17,0.13]],
  [[-0.82,0.23,0.1],[-0.64,-0.22,0.12],[-0.34,-0.17,0.12],[0,-0.37,0.14],[0.35,-0.04,0.1],[0.65,0.4,0.1],[0.77,0.49,0.13]],
  [[-0.82,-0.03,0.12],[-0.64,-0.05,0.16],[-0.34,-0.22,0.2],[0,-0.42,0.17],[0.34,-0.1,0.1],[0.64,0.27,0.12],[0.77,0.62,0.18]],
  [],
  [[-0.82,0.0,0.14],[-0.64,-0.23,0.13],[-0.34,-0.38,0.15],[0,-0.3,0.16],[0.34,-0.14,0.16],[0.64,0.31,0.2],[0.76,0.78,0.22]],
  [[-0.82,-0.05,0.13],[-0.64,-0.23,0.15],[-0.34,-0.12,0.14],[0,-0.52,0.13],[0.35,-0.29,0.14],[0.65,0.55,0.08],[0.82,0.24,0.12]],
  [[-0.83,0.05,0.1],[-0.65,-0.26,0.1],[-0.35,0.19,0.14],[0.01,-0.5,0.1],[0.34,-0.42,0.14],[0.64,0.79,0.08],[0.82,0.23,0.08]],
  [],
  [[-0.82,0.18,0.1],[-0.64,-0.12,0.1],[-0.34,0.38,0.13],[0.01,-0.42,0.1],[0.34,-0.2,0.22],[0.64,0.58,0.1],[0.82,-0.02,0.1]],
  [], [], [], [], []
];

// Systematic uncertainty band: 10 bins of width 0.2 from cos = -1
const sysErr = [
  [0.01,0.01,0.02,0.02,0.02,0.01,0.01,0.01,0.01,0.01],
  [0.01,0.01,0.02,0.01,0.01,0.01,0.01,0.02,0.01,0.01],
  [0.01,0.01,0.01,0.02,0.01,0.01,0.01,0.01,0.01,0.01],
  [0.01,0.01,0.01,0.01,0.01,0.01,0.01,0.01,0.01,0.01],
  [0.01,0.01,0.01,0.01,0.01,0.01,0.01,0.01,0.01,0.01],
  [0.01,0.01,0.01,0.01,0.01,0.01,0.01,0.01,0.01,0.01],
  [0.01,0.01,0.01,0.01,0.01,0.01,0.01,0.01,0.01,0.01],
  [0.01,0.01,0.01,0.01,0.01,0.01,0.01,0.02,0.05,0.02],
  [0.01,0.01,0.01,0.02,0.02,0.02,0.02,0.02,0.02,0.01],
  [0.01,0.01,0.01,0.01,0.02,0.02,0.02,0.02,0.02,0.01],
  [0.02,0.01,0.01,0.01,0.01,0.01,0.01,0.01,0.01,0.01],
  [0.01,0.01,0.01,0.01,0.01,0.01,0.01,0.01,0.01,0.01],
  [0.01,0.01,0.01,0.01,0.01,0.01,0.01,0.02,0.03,0.01],
  [0.01,0.01,0.01,0.01,0.01,0.01,0.02,0.03,0.06,0.09],
  [0.01,0.01,0.01,0.01,0.01,0.01,0.02,0.02,0.03,0.02],
  [0.01,0.01,0.01,0.01,0.01,0.01,0.02,0.02,0.03,0.02],
  [0.02,0.02,0.02,0.02,0.02,0.02,0.03,0.05,0.05,0.03],
  [0.02,0.02,0.02,0.02,0.02,0.03,0.04,0.05,0.04,0.02],
  [0.02,0.02,0.03,0.02,0.02,0.03,0.04,0.07,0.03,0.02],
  [0.02,0.02,0.02,0.02,0.02,0.03,0.07,0.1,0.05,0.03],
  [0.02,0.02,0.02,0.02,0.02,0.02,0.03,0.1,0.05,0.08],
  [0.02,0.02,0.02,0.03,0.03,0.02,0.03,0.04,0.05,0.08],
  [0.02,0.02,0.02,0.03,0.02,0.02,0.03,0.05,0.05,0.04],
  [0.02,0.03,0.05,0.04,0.02,0.02,0.03,0.04,0.06,0.04]
];

const yLabelTicks = [1, 0.5, 0, -0.5, -1];
const xLabelTicks = [-1, -0.5, 0, 0.5, 1];
const majorTicks = [-1, -0.5, 0, 0.5, 1];
const minorTicks = d3.range(-10, 11).map(v => v / 10);

// ---------- layout ----------
const svg = d3.select("#chart");
const plotL = 68, plotR = 1384, plotT = 12, plotB = 917;
const nCols = 4, nRows = 6;
const colW = (plotR - plotL) / nCols;
const rowH = (plotB - plotT) / nRows;
const SX = 1.5;      // horizontal stretch of the lettering
const FS = 19;

function stretchedText(sel, x, y, str, anchor) {
  return sel.append("text")
    .attr("transform", `translate(${x},${y}) scale(${SX},1)`)
    .attr("text-anchor", anchor)
    .attr("font-size", FS)
    .text(str);
}

const line = d3.line().curve(d3.curveCatmullRom.alpha(0.5));

wBins.forEach((title, i) => {
  const col = i % nCols, row = Math.floor(i / nCols);
  const x0 = plotL + col * colW, y0 = plotT + row * rowH;
  const x = d3.scaleLinear().domain([-1, 1]).range([x0, x0 + colW]);
  const y = d3.scaleLinear().domain([-1, 1]).range([y0 + rowH, y0]);
  line.x(d => x(d[0])).y(d => y(d[1]));

  const g = svg.append("g");
  const clipId = "clip" + i;
  g.append("clipPath").attr("id", clipId)
    .append("rect").attr("x", x0).attr("y", y0).attr("width", colW).attr("height", rowH);
  const inner = g.append("g").attr("clip-path", `url(#${clipId})`);

  // systematic band
  inner.selectAll("rect.sys").data(sysErr[i]).join("rect")
    .attr("class", "sys")
    .attr("x", (d, k) => x(-1 + k * 0.2))
    .attr("width", x(-0.8) - x(-1))
    .attr("y", d => y(d))
    .attr("height", d => y(0) - y(d))
    .attr("fill", "#a6a6a6");

  // zero line
  inner.append("line")
    .attr("x1", x(-1)).attr("x2", x(1)).attr("y1", y(0)).attr("y2", y(0))
    .attr("stroke", "#000").attr("stroke-width", 1.2);

  // model curves
  const curves = [
    { v: modelGreen[i], c: "#00ee00", dash: "6,4" },
    { v: modelBlue[i], c: "#0000ff", dash: "6,4" },
    { v: modelMagenta[i], c: "#ff00ff", dash: "6,4" },
    { v: fitDashed[i], c: "#000000", dash: "6,4" },
    { v: fitSolid[i], c: "#000000", dash: null }
  ];
  curves.forEach(cv => {
    if (!cv.v) return;
    inner.append("path")
      .datum(cosGrid.map((c, k) => [c, cv.v[k]]))
      .attr("d", line)
      .attr("fill", "none")
      .attr("stroke", cv.c)
      .attr("stroke-width", 2.8)
      .attr("stroke-dasharray", cv.dash);
  });

  // black data points
  const pb = inner.append("g");
  dataBlack[i].forEach(([c, t, e]) => {
    const px = x(c);
    pb.append("line").attr("x1", px).attr("x2", px).attr("y1", y(t - e)).attr("y2", y(t + e))
      .attr("stroke", "#000").attr("stroke-width", 2.2);
    [t - e, t + e].forEach(v => pb.append("line")
      .attr("x1", px - 3).attr("x2", px + 3).attr("y1", y(v)).attr("y2", y(v))
      .attr("stroke", "#000").attr("stroke-width", 2));
    pb.append("ellipse").attr("cx", px).attr("cy", y(t)).attr("rx", 4.3).attr("ry", 3.7)
      .attr("fill", "#000").attr("stroke", "#777").attr("stroke-width", 0.8);
  });

  // red data points
  const pr = inner.append("g");
  dataRed[i].forEach(([c, t, e]) => {
    const px = x(c), py = y(t);
    pr.append("line").attr("x1", px).attr("x2", px).attr("y1", y(t - e)).attr("y2", y(t + e))
      .attr("stroke", "#ff0000").attr("stroke-width", 2.6);
    [t - e, t + e].forEach(v => pr.append("line")
      .attr("x1", px - 3.5).attr("x2", px + 3.5).attr("y1", y(v)).attr("y2", y(v))
      .attr("stroke", "#ff0000").attr("stroke-width", 2.4));
    pr.append("path")
      .attr("d", `M${px - 4.5},${py - 3.5}L${px + 4.5},${py - 3.5}L${px},${py + 4.5}Z`)
      .attr("fill", "#ff0000");
  });

  // ticks (inward)
  const tickStyle = s => { s.select(".domain").remove(); s.selectAll("line").attr("stroke", "#000").attr("stroke-width", 1.4); };
  g.append("g").attr("transform", `translate(${x0},0)`)
    .call(d3.axisRight(y).tickValues(minorTicks).tickSize(5).tickFormat(""))
    .call(tickStyle);
  g.append("g").attr("transform", `translate(${x0},0)`)
    .call(d3.axisRight(y).tickValues(majorTicks).tickSize(10).tickFormat(""))
    .call(tickStyle);
  g.append("g").attr("transform", `translate(0,${y0 + rowH})`)
    .call(d3.axisTop(x).tickValues(minorTicks).tickSize(5).tickFormat(""))
    .call(tickStyle);
  g.append("g").attr("transform", `translate(0,${y0 + rowH})`)
    .call(d3.axisTop(x).tickValues(majorTicks).tickSize(10).tickFormat(""))
    .call(tickStyle);

  // frame
  g.append("rect").attr("x", x0).attr("y", y0).attr("width", colW).attr("height", rowH)
    .attr("fill", "none").attr("stroke", "#000").attr("stroke-width", 3.5);

  // title
  stretchedText(g, x0 + colW / 2, y0 + 15.5, title, "middle");

  // y labels on the first column
  if (col === 0) {
    yLabelTicks.forEach(t => {
      if (t === 1 && row !== 0) return;
      if (t === -1 && row !== nRows - 1) return;
      stretchedText(g, x0 - 9, y(t) + 6.8, String(t), "end");
    });
  }
  // x labels on the bottom row
  if (row === nRows - 1) {
    xLabelTicks.forEach(t => {
      if (t === -1 && col !== 0) return;
      if (t === 1 && col !== nCols - 1) return;
      stretchedText(g, t === 1 ? x(t) - 1 : x(t), plotB + 19.5, String(t), t === 1 ? "end" : "middle");
    });
  }
});

// axis titles
svg.append("text")
  .attr("transform", `translate(24,19) scale(1.1,1) rotate(-90)`)
  .attr("text-anchor", "middle")
  .attr("font-size", 22)
  .text("T");

const xt = svg.append("text")
  .attr("transform", `translate(1272,957) scale(1.45,1)`)
  .attr("font-size", 20);
xt.append("tspan").text("cos \u03b8");
xt.append("tspan").attr("font-size", 13).attr("dy", 5).text("\u03c0");
xt.append("tspan").attr("font-size", 10).attr("dy", -9).text("0");
</script>
</body>
</html>
